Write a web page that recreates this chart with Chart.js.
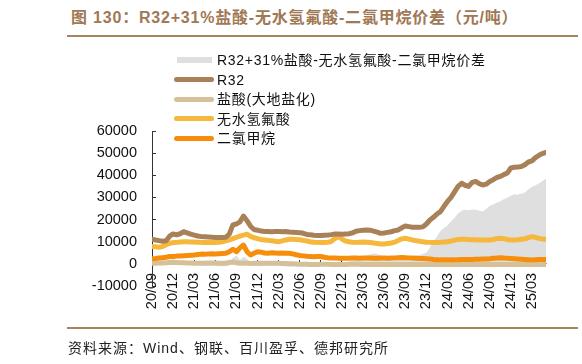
<!DOCTYPE html>
<html><head><meta charset="utf-8">
<script src="https://cdn.jsdelivr.net/npm/chart.js@4.4.1/dist/chart.umd.min.js"></script>
<style>
html,body{margin:0;padding:0;background:#fff;}
#wrap{position:relative;width:582px;height:364px;overflow:hidden;background:#fff;}
#c{position:absolute;left:0;top:0;}
.title{position:absolute;left:71px;top:7px;font:bold 16px "Liberation Sans","Noto Sans CJK SC",sans-serif;color:#A07855;letter-spacing:0.8px;white-space:nowrap;line-height:22px;}
.rule{position:absolute;left:67px;width:511px;height:2px;background:#A9825E;}
.src{position:absolute;left:68px;top:338px;font:14px "Liberation Sans","Noto Sans CJK SC",sans-serif;color:#222;letter-spacing:1px;white-space:nowrap;line-height:20px;}
#legend{position:absolute;left:174px;top:0;font:14px "Liberation Sans","Noto Sans CJK SC",sans-serif;color:#111;}
.li{position:absolute;left:0;height:20px;width:360px;white-space:nowrap;}
.sw{position:absolute;left:0;top:7.5px;width:40px;height:5px;border-radius:2.5px;}
.sw.area{left:3px;top:7px;width:35px;height:6px;border-radius:0;}
.lt{position:absolute;left:43px;top:0;line-height:20px;letter-spacing:0.7px;}
</style></head>
<body>
<div id="wrap">
  <div class="title">图 130：R32+31%盐酸-无水氢氟酸-二氯甲烷价差（元/吨）</div>
  <div class="rule" style="top:35px"></div>
  <canvas id="c" width="582" height="364"></canvas>
  <div id="legend"></div>
  <div class="rule" style="top:327px"></div>
  <div class="src">资料来源：Wind、钢联、百川盈孚、德邦研究所</div>
</div>
<script>
// half-month sampling from 2020/09 (index i -> month offset i/2)
const seriesNames = ['R32+31%盐酸-无水氢氟酸-二氯甲烷价差','R32','盐酸(大地盐化)','无水氢氟酸','二氯甲烷'];
const xTickLabels = ['20/09','20/12','21/03','21/06','21/09','21/12','22/03','22/06','22/09','22/12','23/03','23/06','23/09','23/12','24/03','24/06','24/09','24/12','25/03'];
const yTickValues = [-10000,0,10000,20000,30000,40000,50000,60000];

const spread = [800,700,400,0,-200,300,600,300,200,500,300,-100,-200,-300,-400,-500,-600,-700,-800,-800,
-900,-900,-500,2500,3500,1500,3000,2000,500,-500,-800,-900,-700,-600,-700,-600,-600,-700,-900,-1000,
-900,-800,-800,-600,-400,-300,-300,-200,-100,0,400,700,300,-500,-300,300,700,1200,2000,2500,
3000,3500,4000,4500,4200,3500,3000,3200,3000,2800,2500,2600,3200,3000,3200,3500,3800,4300,4800,7000,
10000,12000,14500,16000,17000,19000,20500,22500,23800,24200,24000,24300,24200,23800,23500,24500,26000,26600,27400,28000,
29000,29700,30500,31200,31000,31500,32000,33500,34500,35300,36000,37200,38200];

const r32 = [11100,10800,10500,10200,10400,12500,13500,13100,13600,14500,14000,13400,13000,12600,12300,12200,12100,12000,11900,11900,
11900,12000,13500,17600,18000,19000,21600,19500,17000,15500,15200,14800,14600,14600,14500,14600,14600,14500,14600,14400,
14300,14200,14100,13800,13300,13100,12900,12800,12800,12900,13000,13200,13500,13500,13400,13500,13600,14000,14700,15000,
15200,15300,15200,14800,14300,13800,13900,14200,14500,15000,15300,16300,17100,16800,16500,16500,16500,16700,18000,19800,
21000,22500,23600,26000,28200,30000,32500,35000,36400,35500,35000,36800,37200,36200,35600,36000,37200,38000,39000,39500,
40300,41000,43300,43600,43700,44000,44800,46000,46500,48000,49000,49800,50400];

const hcl = [300,300,400,400,500,600,700,600,500,500,400,400,300,300,300,300,400,400,400,300,
300,400,600,800,500,300,300,300,200,300,300,300,300,300,300,300,300,200,200,100,
0,-100,-200,-200,-200,-300,-300,-300,-200,-200,-200,-300,-300,-300,-300,-300,-200,-200,-200,-200,
-300,-300,-300,-300,-300,-300,-300,-300,-300,-300,-300,-300,-300,-300,-300,-300,-300,-300,-300,-300,
-300,-300,-300,-300,-300,-300,-300,-300,-300,-300,-300,-300,-300,-300,-300,-300,-300,-300,-300,-300,
-300,-300,-300,-300,-300,-300,-300,-300,-300,-300,-300,-300,-300];

const hf = [7800,7700,7500,7800,8600,9300,9600,9700,9900,10000,10000,9900,9900,9800,9700,9700,9600,9600,9600,9700,
10000,10400,10800,11400,12000,12500,13000,13400,12400,11800,11400,11000,10800,10600,10400,10200,10000,10400,10800,11100,
11100,11000,10900,10600,10300,10000,9800,9700,9600,9600,9700,10200,11500,12300,11200,10300,10000,9800,9700,9800,
9900,9800,9600,9400,9200,9000,9000,9200,9400,9800,10600,11300,11600,11200,10800,10500,10200,10000,9800,9700,
9600,9600,9700,9900,10000,10300,10700,11000,11100,11100,11000,10900,10900,10800,10800,10800,10800,11000,11400,11600,
11400,11000,10800,10800,10900,11100,11300,11800,12300,12000,11500,11200,11100];

const dcm = [2300,2400,2600,2800,3000,3300,3300,3500,3600,3700,3800,3900,4000,4200,4400,4300,4500,4600,4500,4600,
4700,4800,5500,6600,5500,7200,8500,5500,4000,4800,5500,5300,4900,4800,5000,4900,4800,4900,4800,4800,
4500,4100,3800,3600,3400,3300,3200,3300,3300,3000,2700,2600,2600,2500,2500,2500,2500,2600,2600,2500,
2600,2700,2600,2500,2500,2600,2600,2500,2600,2700,2800,2900,2800,2700,2600,2500,2400,2400,2300,2200,
2000,1900,1800,1800,1900,1800,1800,1900,2000,2000,2000,2000,2100,2100,2200,2200,2300,2500,2600,2800,
2600,2500,2400,2300,2200,2100,2000,1900,1800,1900,2000,2000,2000];

const colors = ['#DFDFDF','#A98159','#D5C09A','#F6B83C','#F68E0C'];

const toXY = arr => arr.map((v, i) => ({x: i / 2, y: v}));
const lineDs = (k, arr, order) => ({
  label: seriesNames[k], data: toXY(arr), borderColor: colors[k], backgroundColor: colors[k],
  borderWidth: 5, fill: false, order: order, pointRadius: 0,
  borderJoinStyle: 'round', borderCapStyle: 'round', tension: 0
});

const chart = new Chart(document.getElementById('c'), {
  type: 'line',
  data: {datasets: [
    {label: seriesNames[0], data: toXY(spread), borderColor: colors[0], backgroundColor: colors[0],
     borderWidth: 1, fill: 'origin', order: 5, pointRadius: 0, tension: 0},
    lineDs(1, r32, 1),
    lineDs(2, hcl, 4),
    lineDs(3, hf, 3),
    lineDs(4, dcm, 2)
  ]},
  options: {
    responsive: false, animation: false, devicePixelRatio: 1,
    layout: {padding: {left: 0, right: 36, top: 131, bottom: 78}},
    plugins: {legend: {display: false}, tooltip: {enabled: false}},
    scales: {
      x: {
        type: 'linear', position: {y: 0}, min: 0, max: 56,
        ticks: {stepSize: 3, includeBounds: false, autoSkip: false, minRotation: 90, maxRotation: 90,
          padding: 13, color: '#111', font: {family: '"Liberation Sans", Arial, sans-serif', size: 14.5},
          callback: v => (Number.isInteger(v / 3) && xTickLabels[v / 3] !== undefined) ? xTickLabels[v / 3] : null},
        grid: {drawOnChartArea: false, drawTicks: true, tickLength: -4, color: '#333'},
        border: {display: true, color: '#999', width: 1}
      },
      y: {
        type: 'linear', position: 'left', min: yTickValues[0], max: yTickValues[yTickValues.length - 1],
        ticks: {stepSize: 10000, padding: 19, color: '#111', font: {family: '"Liberation Sans", Arial, sans-serif', size: 14.5},
          callback: v => String(v)},
        grid: {drawOnChartArea: false, drawTicks: true, tickLength: -4, color: '#333'},
        border: {display: true, color: '#333', width: 1},
        afterFit: s => { s.width = 152; }
      }
    }
  }
});

// HTML legend built from the chart's datasets
const lg = document.getElementById('legend');
chart.data.datasets.forEach((ds, k) => {
  const row = document.createElement('div');
  row.className = 'li';
  row.style.top = (50 + k * 19.5) + 'px';
  const sw = document.createElement('div');
  sw.className = 'sw' + (k === 0 ? ' area' : '');
  sw.style.background = ds.borderColor;
  const t = document.createElement('div');
  t.className = 'lt';
  t.textContent = ds.label;
  row.appendChild(sw); row.appendChild(t);
  lg.appendChild(row);
});
</script>
</body></html>
